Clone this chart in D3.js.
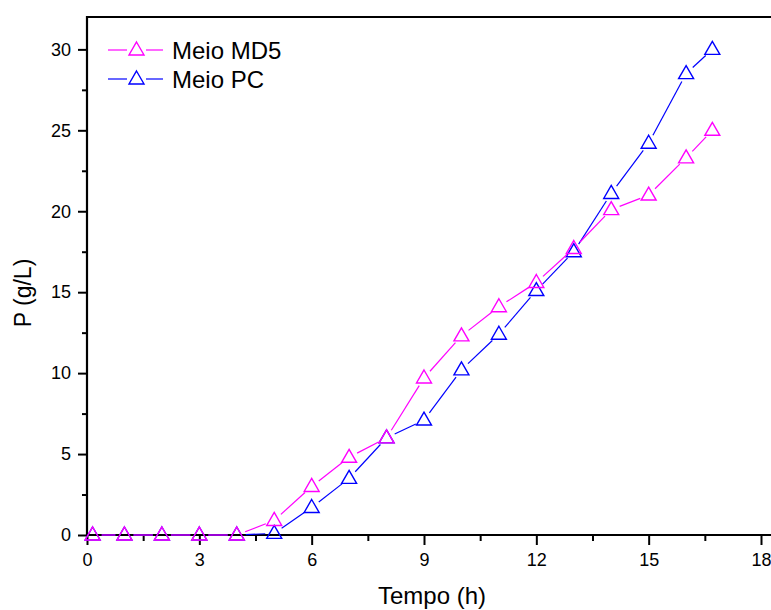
<!DOCTYPE html>
<html>
<head>
<meta charset="utf-8">
<script src="https://cdn.jsdelivr.net/npm/d3@7"></script>
<style>
  body { margin: 0; background: #fff; }
  svg { display: block; font-family: "Liberation Sans", Arial, sans-serif; }
</style>
</head>
<body>
<svg id="chart" width="771" height="610"></svg>
<script>
// time (h) and product concentration P (g/L)
var tempo = [0.15, 1, 2, 3, 4, 5, 6, 7, 8, 9, 10, 11, 12, 13, 14, 15, 16, 16.7];
var meioMD5 = [0, 0, 0, 0, 0, 0.9, 3.0, 4.8, 6.0, 9.7, 12.3, 14.1, 15.6, 17.7, 20.1, 21.0, 23.3, 25.0];
var meioPC = [0, 0, 0, 0, 0, 0.1, 1.7, 3.5, 6.0, 7.1, 10.2, 12.4, 15.1, 17.5, 21.1, 24.2, 28.5, 30.0];
var xTicks = [0, 3, 6, 9, 12, 15, 18];
var yTicks = [0, 5, 10, 15, 20, 25, 30];
var seriesNames = ["Meio MD5", "Meio PC"];

var svg = d3.select("#chart");
var margins = {left: 87, top: 17, bottom: 535, right: 774};

var xScale = d3.scaleLinear().domain([0, 18]).range([87, 761]);
var yScale = d3.scaleLinear().domain([0, 32]).range([535, 17]);

// triangle marker centred on the point
var tri = "M0,-8L7.5,5L-7.5,5Z";

var drawSeries = function(values, color)
{
  var pts = tempo.map(function(t, i) { return [xScale(t), yScale(values[i])]; });
  var gap = 9;
  var segs = [];
  for (var i = 0; i < pts.length - 1; i++)
  {
    var a = pts[i], b = pts[i + 1];
    var dx = b[0] - a[0], dy = b[1] - a[1];
    var len = Math.sqrt(dx * dx + dy * dy);
    if (len <= 2 * gap) continue;
    var ux = dx / len, uy = dy / len;
    segs.push([a[0] + ux * gap, a[1] + uy * gap, b[0] - ux * gap, b[1] - uy * gap]);
  }
  var g = svg.append("g");
  g.selectAll("line")
    .data(segs)
    .enter()
    .append("line")
    .attr("x1", function(d) { return d[0]; })
    .attr("y1", function(d) { return d[1]; })
    .attr("x2", function(d) { return d[2]; })
    .attr("y2", function(d) { return d[3]; })
    .style("stroke", color)
    .style("stroke-width", 1.2);
  g.selectAll("path")
    .data(pts)
    .enter()
    .append("path")
    .attr("d", tri)
    .attr("transform", function(d) { return "translate(" + d[0] + "," + d[1] + ")"; })
    .style("fill", "none")
    .style("stroke", color)
    .style("stroke-width", 1.4);
}

// frame
svg.append("path")
  .attr("d", "M" + margins.left + "," + margins.bottom + "V" + margins.top + "H" + margins.right)
  .style("fill", "none")
  .style("stroke", "#000")
  .style("stroke-width", 2.2);

// x axis
var xAxis = d3.axisBottom(xScale).tickValues(xTicks).tickSize(10).tickPadding(8);
var gx = svg.append("g").attr("transform", "translate(0," + margins.bottom + ")").call(xAxis);
svg.append("g").attr("transform", "translate(0," + margins.bottom + ")")
  .call(d3.axisBottom(xScale).tickValues(d3.range(1.5, 18, 3)).tickSize(6).tickFormat(""))
  .select(".domain").remove();

// y axis
var yAxis = d3.axisLeft(yScale).tickValues(yTicks).tickSize(9).tickPadding(7);
var gy = svg.append("g").attr("transform", "translate(" + margins.left + ",0)").call(yAxis);
svg.append("g").attr("transform", "translate(" + margins.left + ",0)")
  .call(d3.axisLeft(yScale).tickValues(d3.range(2.5, 30, 5)).tickSize(5).tickFormat(""))
  .select(".domain").remove();

svg.selectAll(".domain").remove();
svg.selectAll(".tick line").style("stroke", "#000").style("stroke-width", 2);
gx.selectAll(".tick text").style("font-size", "18px").style("font-family", "Liberation Sans, Arial, sans-serif").attr("fill", "#000");
gy.selectAll(".tick text").style("font-size", "18px").style("font-family", "Liberation Sans, Arial, sans-serif").attr("fill", "#000");

// bottom axis line drawn full width
svg.append("line")
  .attr("x1", margins.left).attr("x2", margins.right)
  .attr("y1", margins.bottom).attr("y2", margins.bottom)
  .style("stroke", "#000").style("stroke-width", 2.2);

drawSeries(meioPC, "#0000ff");
drawSeries(meioMD5, "#ff00ff");

// axis titles
svg.append("text")
  .attr("x", 432).attr("y", 604)
  .attr("text-anchor", "middle")
  .style("font-size", "24px")
  .text("Tempo (h)");
svg.append("text")
  .attr("transform", "translate(31,293) rotate(-90)")
  .attr("text-anchor", "middle")
  .style("font-size", "23px")
  .text("P (g/L)");

// legend
var legendColors = ["#ff00ff", "#0000ff"];
var legend = svg.selectAll(".legend")
  .data(seriesNames)
  .enter()
  .append("g")
  .attr("class", "legend")
  .attr("transform", function(d, i) { return "translate(0," + (50 + i * 29) + ")"; });
legend.append("line").attr("x1", 108).attr("x2", 127).attr("y1", 0).attr("y2", 0)
  .style("stroke", function(d, i) { return legendColors[i]; }).style("stroke-width", 1.2);
legend.append("line").attr("x1", 146).attr("x2", 163).attr("y1", 0).attr("y2", 0)
  .style("stroke", function(d, i) { return legendColors[i]; }).style("stroke-width", 1.2);
legend.append("path").attr("d", tri).attr("transform", "translate(136.5,0)")
  .style("fill", "none").style("stroke-width", 1.4)
  .style("stroke", function(d, i) { return legendColors[i]; });
legend.append("text").attr("x", 172).attr("y", 8.5)
  .style("font-size", "24px")
  .text(function(d) { return d; });
</script>
</body>
</html>
